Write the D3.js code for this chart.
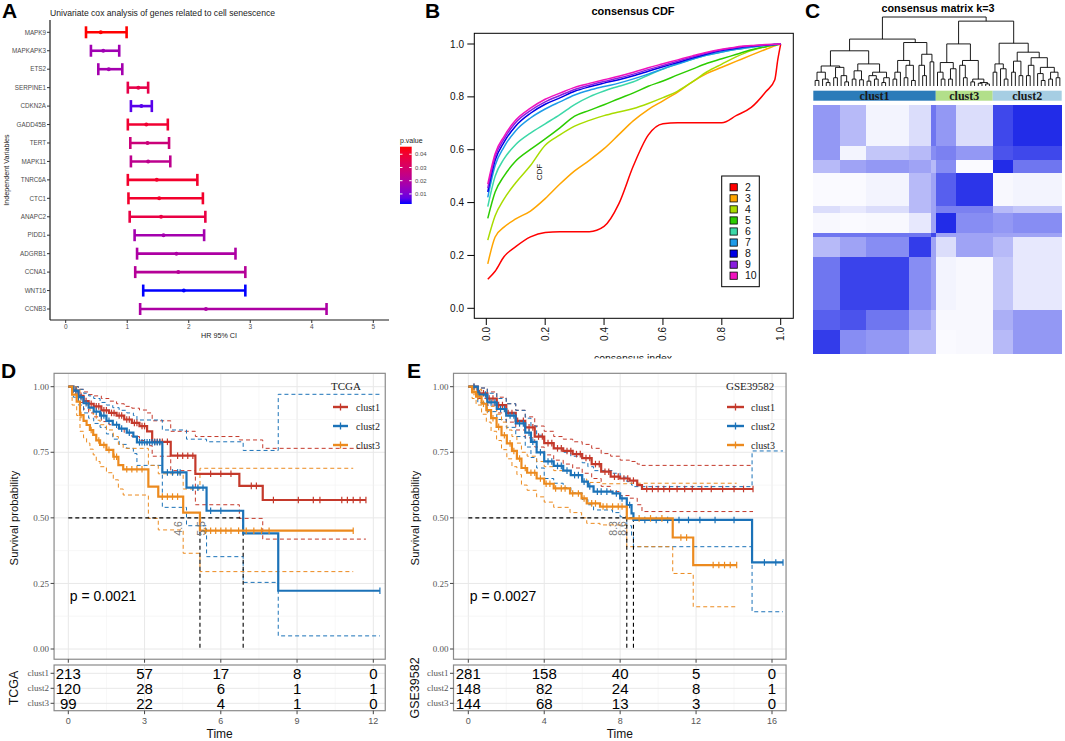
<!DOCTYPE html>
<html>
<head>
<meta charset="utf-8">
<title>Cell senescence figure</title>
<script src="https://cdn.jsdelivr.net/npm/d3@7/dist/d3.min.js"></script>
<style>
  body { margin: 0; background: #fff; }
  svg { font-family: Arial, "Liberation Sans", sans-serif; }
</style>
</head>
<body>
<svg id="fig" width="1065" height="741"></svg>
<script>
const SERIF = '"Liberation Serif", "Times New Roman", serif';

// ---------------- panel A: univariate cox ----------------
const genes = ["MAPK9", "MAPKAPK3", "ETS2", "SERPINE1", "CDKN2A", "GADD45B", "TERT", "MAPK11",
  "TNRC6A", "CTC1", "ANAPC2", "PIDD1", "ADGRB1", "CCNA1", "WNT16", "CCNB3"];
const hr     = [0.57, 0.61, 0.70, 1.18, 1.23, 1.31, 1.33, 1.34, 1.48, 1.52, 1.55, 1.59, 1.80, 1.83, 1.92, 2.28];
const hrLow  = [0.33, 0.41, 0.53, 1.01, 1.06, 1.01, 1.05, 1.06, 1.01, 1.02, 1.04, 1.12, 1.16, 1.13, 1.26, 1.21];
const hrHigh = [0.99, 0.87, 0.92, 1.34, 1.40, 1.66, 1.68, 1.70, 2.14, 2.23, 2.27, 2.25, 2.76, 2.92, 2.92, 4.24];
const pvals  = [0.0457, 0.016, 0.017, 0.036, 0.006, 0.040, 0.027, 0.023, 0.041, 0.041, 0.037, 0.017, 0.019, 0.021, 0.0024, 0.019];
const hrTicks = [0, 1, 2, 3, 4, 5];
const pTicks = [0.01, 0.02, 0.03, 0.04];

// ---------------- panel B: consensus CDF ----------------
const cdfK = [2, 3, 4, 5, 6, 7, 8, 9, 10];
const cdfColors = ["#ff0000", "#ffa500", "#a8dc00", "#2ccc00", "#3cd8a8", "#1e9be8", "#0000e6", "#8a1ede", "#f012be"];
const cdfX = [0.005, 0.03, 0.06, 0.1, 0.15, 0.2, 0.25, 0.3, 0.35, 0.4, 0.45, 0.5, 0.55, 0.6, 0.65, 0.7, 0.75, 0.8, 0.85, 0.9, 0.95, 0.98, 0.99, 1.0];
const cdfK2  = [0.11, 0.14, 0.195, 0.233, 0.27, 0.287, 0.29, 0.29, 0.29, 0.31, 0.395, 0.54, 0.655, 0.698, 0.702, 0.702, 0.702, 0.702, 0.73, 0.76, 0.82, 0.865, 0.94, 1.0];
const cdfK3  = [0.168, 0.27, 0.307, 0.338, 0.368, 0.415, 0.47, 0.52, 0.56, 0.604, 0.657, 0.71, 0.752, 0.785, 0.818, 0.857, 0.889, 0.912, 0.935, 0.958, 0.98, 0.993, 0.997, 1.0];
const cdfK4  = [0.258, 0.35, 0.413, 0.475, 0.54, 0.617, 0.656, 0.689, 0.711, 0.729, 0.743, 0.756, 0.775, 0.797, 0.822, 0.857, 0.895, 0.924, 0.952, 0.975, 0.99, 0.996, 0.998, 1.0];
const cdfK5  = [0.34, 0.44, 0.50, 0.557, 0.601, 0.641, 0.683, 0.727, 0.749, 0.77, 0.793, 0.815, 0.84, 0.86, 0.883, 0.905, 0.927, 0.944, 0.961, 0.978, 0.99, 0.996, 0.998, 1.0];
const cdfK6  = [0.385, 0.50, 0.565, 0.62, 0.663, 0.698, 0.733, 0.771, 0.80, 0.822, 0.84, 0.857, 0.882, 0.905, 0.926, 0.942, 0.958, 0.97, 0.98, 0.988, 0.995, 0.998, 0.999, 1.0];
const cdfK7  = [0.42, 0.54, 0.61, 0.672, 0.72, 0.754, 0.781, 0.807, 0.825, 0.839, 0.852, 0.868, 0.886, 0.906, 0.924, 0.942, 0.958, 0.97, 0.98, 0.988, 0.995, 0.998, 0.999, 1.0];
const cdfK8  = [0.44, 0.56, 0.628, 0.69, 0.738, 0.772, 0.796, 0.821, 0.838, 0.852, 0.865, 0.88, 0.897, 0.914, 0.93, 0.947, 0.962, 0.975, 0.984, 0.991, 0.996, 0.998, 0.999, 1.0];
const cdfK9  = [0.455, 0.573, 0.64, 0.703, 0.748, 0.781, 0.805, 0.828, 0.844, 0.858, 0.871, 0.886, 0.903, 0.919, 0.935, 0.951, 0.966, 0.978, 0.987, 0.993, 0.997, 0.999, 0.9995, 1.0];
const cdfK10 = [0.47, 0.585, 0.65, 0.712, 0.757, 0.791, 0.814, 0.836, 0.851, 0.865, 0.878, 0.893, 0.91, 0.925, 0.94, 0.955, 0.969, 0.98, 0.989, 0.994, 0.998, 0.999, 1.0, 1.0];
const cdfSeries = [cdfK2, cdfK3, cdfK4, cdfK5, cdfK6, cdfK7, cdfK8, cdfK9, cdfK10];
const unitTicks = [0, 0.2, 0.4, 0.6, 0.8, 1.0];

// ---------------- panel C: consensus matrix k=3 ----------------
// nested [height, left, right]; 0 = leaf
const dendroTree = [1.0,
  [0.68,
    [0.51,
      [0.29, [0.2, [0.08, 0, 0], [0.1, 0, [0.05, 0, 0]]], [0.27, [0.12, 0, 0], [0.15, 0, [0.06, 0, 0]]]],
      [0.32, [0.22, [0.1, 0, 0], [0.09, 0, 0]], [0.2, [0.15, [0.07, 0, 0], [0.1, 0, 0]], [0.12, [0.05, 0, 0], 0]]]],
    [0.63,
      [0.37, [0.2, [0.1, 0, 0], 0], [0.3, [0.12, 0, 0], [0.08, 0, 0]]],
      [0.46, [0.3, 0, [0.15, 0, 0]], [0.35, 0, 0]]]],
  [0.94,
    [0.61, [0.34, [0.2, 0, [0.1, 0, 0]], [0.25, [0.1, 0, 0], 0]],
           [0.37, [0.3, 0, [0.12, 0, 0]], [0.1, [0.06, 0, 0], [0.05, [0.04, 0, 0], [0.03, 0, 0]]]]],
    [0.62, [0.32, [0.2, 0, 0], [0.25, 0, [0.1, 0, 0]]],
           [0.49, [0.36, [0.2, 0, 0], [0.15, 0, 0]],
                  [0.41, [0.3, [0.15, 0, 0], 0], [0.27, [0.18, 0, [0.08, 0, 0]], [0.2, [0.1, 0, 0], [0.12, 0, 0]]]]]]]
];
const clusterNames = ["clust1", "clust3", "clust2"];
const clusterSizes = [213, 99, 120];
const clusterColors = ["#2b7bb9", "#b2df8a", "#a6cee3"];
const colBands = [46, 46, 75, 38, 8, 35, 64, 35, 85];
const rowBands = [72, 23, 23, 58, 12, 35, 6, 35, 93, 35, 40];
const consensusBlocks = [
  [0.45, 0.30, 0.05, 0.15, 0.60, 0.45, 0.15, 0.80, 0.92],
  [0.45, 0.05, 0.25, 0.30, 0.50, 0.55, 0.45, 0.75, 0.80],
  [0.30, 0.40, 0.45, 0.40, 0.30, 0.50, 0.02, 0.92, 0.60],
  [0.02, 0.02, 0.05, 0.30, 0.40, 0.70, 0.88, 0.03, 0.05],
  [0.15, 0.10, 0.15, 0.30, 0.40, 0.55, 0.55, 0.30, 0.25],
  [0.03, 0.02, 0.03, 0.10, 0.40, 0.92, 0.50, 0.45, 0.50],
  [0.60, 0.60, 0.60, 0.60, 0.80, 0.40, 0.40, 0.40, 0.40],
  [0.30, 0.40, 0.50, 0.85, 0.40, 0.15, 0.40, 0.30, 0.10],
  [0.60, 0.82, 0.82, 0.50, 0.40, 0.05, 0.03, 0.25, 0.10],
  [0.70, 0.75, 0.60, 0.40, 0.30, 0.03, 0.03, 0.35, 0.45],
  [0.85, 0.50, 0.45, 0.30, 0.30, 0.02, 0.03, 0.30, 0.45]
];

// ---------------- panels D/E: Kaplan-Meier ----------------
const kmNames = ["clust1", "clust2", "clust3"];
const kmColors = ["#c4392b", "#1b72b8", "#ec8a1e"];

// TCGA
const tcga1T  = [0, 0.2, 0.4, 0.6, 0.8, 1.0, 1.3, 1.6, 1.9, 2.2, 2.5, 2.8, 3.1, 3.3, 4.03, 5.0, 6.73, 7.65];
const tcga1S  = [1, 0.985, 0.965, 0.945, 0.935, 0.925, 0.91, 0.9, 0.89, 0.875, 0.862, 0.85, 0.83, 0.79, 0.737, 0.668, 0.622, 0.568];
const tcga1Up = [1, 1, 0.99, 0.98, 0.97, 0.965, 0.955, 0.945, 0.935, 0.925, 0.918, 0.911, 0.9, 0.87, 0.83, 0.81, 0.797, 0.765];
const tcga1Lo = [1, 0.97, 0.94, 0.915, 0.9, 0.885, 0.867, 0.855, 0.841, 0.825, 0.81, 0.795, 0.775, 0.735, 0.68, 0.55, 0.498, 0.419];
const tcga1Cens = [0.3, 0.5, 0.7, 0.9, 1.1, 1.2, 1.4, 1.5, 1.7, 1.8, 2.0, 2.1, 2.3, 2.4, 2.6, 2.7, 2.9, 3.0, 3.4, 3.5, 3.6, 3.7, 3.9,
  4.3, 4.5, 4.7, 4.9, 5.6, 6.0, 6.4, 7.2, 7.4, 8.07, 9.05, 9.64, 9.9, 10.76, 10.98, 11.21, 11.48, 11.71];
const tcga2T  = [0, 0.2, 0.4, 0.6, 0.8, 1.0, 1.25, 1.5, 1.75, 2.0, 2.3, 2.56, 2.7, 3.7, 4.65, 5.44, 6.88, 8.26];
const tcga2S  = [1, 0.985, 0.96, 0.937, 0.92, 0.905, 0.89, 0.87, 0.855, 0.84, 0.825, 0.81, 0.788, 0.673, 0.615, 0.527, 0.441, 0.222];
const tcga2Up = [1, 1, 0.99, 0.975, 0.965, 0.955, 0.94, 0.93, 0.92, 0.91, 0.9, 0.89, 0.873, 0.835, 0.80, 0.79, 0.757, 0.971];
const tcga2Lo = [1, 0.96, 0.93, 0.9, 0.88, 0.86, 0.845, 0.82, 0.8, 0.78, 0.765, 0.745, 0.70, 0.54, 0.47, 0.352, 0.254, 0.05];
const tcga2Cens = [0.3, 0.5, 0.7, 1.1, 1.3, 1.4, 1.6, 1.9, 2.1, 2.4, 2.8, 2.9, 3.0, 3.1, 3.2, 3.3, 3.4, 3.5, 3.6, 3.9, 4.1, 4.3, 4.4,
  4.9, 5.1, 5.3, 5.6, 6.0, 12.26];
const tcga3T  = [0, 0.15, 0.33, 0.46, 0.6, 0.72, 0.85, 0.98, 1.1, 1.25, 1.5, 1.77, 1.97, 2.16, 3.15, 3.54, 4.52, 5.18];
const tcga3S  = [1, 0.97, 0.943, 0.892, 0.87, 0.854, 0.835, 0.816, 0.795, 0.778, 0.759, 0.733, 0.701, 0.685, 0.619, 0.581, 0.52, 0.451];
const tcga3Up = [1, 1, 0.99, 0.96, 0.945, 0.93, 0.91, 0.892, 0.872, 0.855, 0.835, 0.81, 0.78, 0.765, 0.70, 0.668, 0.61, 0.689];
const tcga3Lo = [1, 0.93, 0.89, 0.83, 0.805, 0.785, 0.762, 0.74, 0.715, 0.695, 0.672, 0.645, 0.61, 0.587, 0.498, 0.454, 0.365, 0.295];
const tcga3Cens = [0.5, 0.9, 1.2, 1.4, 1.6, 1.8, 1.9, 2.3, 2.5, 2.7, 2.9, 3.7, 3.9, 4.1, 4.3, 5.4, 5.6, 5.8, 6.0, 6.2, 6.4, 6.7,
  7.0, 7.3, 7.6, 7.9, 11.21];
const tcgaEnd = [11.71, 12.26, 11.21];
const tcgaRisk1 = [213, 57, 17, 8, 0];
const tcgaRisk2 = [120, 28, 6, 1, 1];
const tcgaRisk3 = [99, 22, 4, 1, 0];
const tcgaTicks = [0, 3, 6, 9, 12];
const tcgaMedLabels = ["4.6", "5.5"];
const tcgaMedLabelT = [4.32, 5.25];

// GSE39582
const gse1T  = [0, 0.5, 1.0, 1.5, 2.0, 2.5, 3.0, 3.5, 4.0, 4.5, 5.0, 5.5, 6.0, 6.5, 7.0, 7.5, 8.0, 8.5, 8.9, 9.15];
const gse1S  = [1, 0.975, 0.955, 0.93, 0.9, 0.87, 0.845, 0.81, 0.785, 0.765, 0.755, 0.743, 0.728, 0.705, 0.676, 0.657, 0.65, 0.642, 0.625, 0.61];
const gse1Up = [1, 0.995, 0.98, 0.96, 0.935, 0.91, 0.885, 0.85, 0.83, 0.81, 0.8, 0.79, 0.78, 0.765, 0.745, 0.735, 0.72, 0.715, 0.705, 0.70];
const gse1Lo = [1, 0.955, 0.93, 0.9, 0.865, 0.835, 0.805, 0.77, 0.74, 0.72, 0.705, 0.69, 0.67, 0.65, 0.62, 0.6, 0.585, 0.575, 0.55, 0.524];
const gse1Cens = [0.3, 0.6, 0.8, 1.1, 1.3, 1.6, 1.8, 2.1, 2.3, 2.6, 2.9, 3.2, 3.4, 3.7, 3.9, 4.2, 4.4, 4.7, 4.9, 5.2, 5.4, 5.7, 5.9,
  6.2, 6.4, 6.7, 6.9, 7.2, 7.4, 7.7, 7.9, 8.2, 8.4, 8.7, 9.4, 9.7, 10.0, 10.3, 10.6, 11.0, 11.4, 11.8, 12.3, 12.8, 13.4, 14.0, 14.5, 15.0];
const gse2T  = [0, 0.5, 1.0, 1.5, 2.0, 2.5, 3.0, 3.3, 3.6, 4.0, 4.5, 5.0, 5.4, 6.0, 6.3, 6.6, 7.6, 8.0, 8.35, 8.6, 8.7, 14.95];
const gse2S  = [1, 0.97, 0.94, 0.915, 0.89, 0.86, 0.825, 0.79, 0.75, 0.715, 0.698, 0.68, 0.663, 0.638, 0.62, 0.6, 0.593, 0.574, 0.549, 0.517, 0.492, 0.33];
const gse2Up = [1, 0.995, 0.975, 0.955, 0.935, 0.91, 0.88, 0.85, 0.815, 0.785, 0.765, 0.75, 0.735, 0.71, 0.695, 0.68, 0.67, 0.655, 0.638, 0.625, 0.619, 0.755];
const gse2Lo = [1, 0.94, 0.905, 0.875, 0.845, 0.81, 0.77, 0.73, 0.69, 0.65, 0.632, 0.615, 0.595, 0.57, 0.55, 0.53, 0.52, 0.504, 0.47, 0.43, 0.39, 0.142];
const gse2Cens = [0.3, 0.6, 0.9, 1.2, 1.4, 1.7, 1.9, 2.2, 2.4, 2.7, 2.9, 3.2, 3.4, 3.8, 4.2, 4.4, 4.7, 4.9, 5.2, 5.6, 5.8, 6.1, 6.4,
  6.8, 7.0, 7.3, 7.8, 8.1, 8.5, 9.3, 9.9, 10.5, 11.1, 11.6, 12.2, 13.0, 14.0, 15.6, 16.2, 16.58];
const gse3T  = [0, 0.2, 0.41, 0.7, 0.95, 1.2, 1.49, 1.75, 2.03, 2.3, 2.56, 2.8, 3.1, 3.6, 4.0, 4.5, 5.36, 5.97, 6.24, 6.94, 8.35, 10.77, 11.85];
const gse3S  = [1, 0.98, 0.962, 0.935, 0.911, 0.88, 0.847, 0.815, 0.784, 0.755, 0.726, 0.69, 0.672, 0.65, 0.63, 0.612, 0.593, 0.574, 0.555, 0.543, 0.498, 0.425, 0.32];
const gse3Up = [1, 1, 0.99, 0.97, 0.95, 0.925, 0.895, 0.865, 0.835, 0.81, 0.785, 0.75, 0.735, 0.715, 0.695, 0.68, 0.665, 0.648, 0.635, 0.63, 0.632, 0.632, 0.632];
const gse3Lo = [1, 0.955, 0.93, 0.895, 0.865, 0.83, 0.795, 0.76, 0.725, 0.695, 0.665, 0.625, 0.605, 0.58, 0.56, 0.54, 0.52, 0.5, 0.479, 0.473, 0.39, 0.288, 0.161];
const gse3Cens = [0.3, 0.5, 0.8, 1.0, 1.3, 1.6, 1.9, 2.2, 2.4, 2.7, 3.0, 3.3, 3.5, 3.8, 4.1, 4.3, 4.6, 4.9, 5.1, 5.5, 5.8, 6.1, 6.5,
  6.7, 7.1, 7.3, 7.6, 7.9, 8.1, 9.0, 9.6, 10.2, 11.2, 11.5, 12.9, 13.2, 13.5, 13.8, 14.14];
const gseEnd = [15.0, 16.58, 14.14];
const gseRisk1 = [281, 158, 40, 5, 0];
const gseRisk2 = [148, 82, 24, 8, 1];
const gseRisk3 = [144, 68, 13, 3, 0];
const gseTicks = [0, 4, 8, 12, 16];
const gseMedLabels = ["8.3", "8.6"];
const gseMedLabelT = [7.62, 8.1];

const svg = d3.select("#fig");

function panelLetter(txt, x, y) {
  svg.append("text").attr("x", x).attr("y", y).attr("font-size", 21)
    .attr("font-weight", "bold").attr("fill", "#000").text(txt);
}

// =============== A ===============
{
  const g = svg.append("g");
  panelLetter("A", 2, 18);
  g.append("text").attr("x", 50).attr("y", 16).attr("font-size", 8.6).attr("fill", "#1a1a1a")
    .text("Univariate cox analysis of genes related to cell senescence");

  const x = d3.scaleLinear().domain([0, 5]).range([65.7, 373.3]);
  const y = d3.scalePoint().domain(genes).range([32.3, 309]);
  const pExt = d3.extent(pvals);
  const col = d3.scaleLinear().domain(pExt).range(["blue", "red"]).interpolate(d3.interpolateLab);

  g.append("line").attr("x1", 50).attr("x2", 50).attr("y1", 20).attr("y2", 320).attr("stroke", "#1a1a1a").attr("stroke-width", 1.2);
  g.append("line").attr("x1", 50).attr("x2", 389).attr("y1", 320).attr("y2", 320).attr("stroke", "#1a1a1a").attr("stroke-width", 1.2);

  hrTicks.forEach(t => {
    g.append("line").attr("x1", x(t)).attr("x2", x(t)).attr("y1", 320).attr("y2", 323).attr("stroke", "#333");
    g.append("text").attr("x", x(t)).attr("y", 327).attr("dy", "0.35em").attr("text-anchor", "middle")
      .attr("font-size", 6.5).attr("fill", "#4d4d4d").text(t);
  });
  genes.forEach((gn, i) => {
    const yy = y(gn);
    g.append("line").attr("x1", 47).attr("x2", 50).attr("y1", yy).attr("y2", yy).attr("stroke", "#333");
    g.append("text").attr("x", 46).attr("y", yy).attr("dy", "0.35em").attr("text-anchor", "end")
      .attr("font-size", 6.3).attr("fill", "#4d4d4d").text(gn);
    const c = col(pvals[i]);
    g.append("line").attr("x1", x(hrLow[i])).attr("x2", x(hrHigh[i])).attr("y1", yy).attr("y2", yy)
      .attr("stroke", c).attr("stroke-width", 2.6);
    [hrLow[i], hrHigh[i]].forEach(v => {
      g.append("line").attr("x1", x(v)).attr("x2", x(v)).attr("y1", yy - 6).attr("y2", yy + 6)
        .attr("stroke", c).attr("stroke-width", 2.6);
    });
    g.append("circle").attr("cx", x(hr[i])).attr("cy", yy).attr("r", 2).attr("fill", c);
  });
  g.append("text").attr("transform", "translate(9,170) rotate(-90)").attr("text-anchor", "middle")
    .attr("font-size", 7.2).attr("fill", "#1a1a1a").text("Independent Variables");
  g.append("text").attr("x", 219).attr("y", 338).attr("text-anchor", "middle")
    .attr("font-size", 7.2).attr("fill", "#1a1a1a").text("HR 95% CI");

  // colour bar legend
  const grad = svg.append("defs").append("linearGradient").attr("id", "pgrad")
    .attr("x1", 0).attr("y1", 1).attr("x2", 0).attr("y2", 0);
  d3.range(0, 1.0001, 0.1).forEach(f => {
    grad.append("stop").attr("offset", f).attr("stop-color", d3.interpolateLab("blue", "red")(f));
  });
  const cb = d3.scaleLinear().domain(pExt).range([204, 146.7]);
  g.append("text").attr("x", 400).attr("y", 142.5).attr("font-size", 7).attr("fill", "#1a1a1a").text("p.value");
  g.append("rect").attr("x", 400).attr("y", cb(pExt[1])).attr("width", 11.7)
    .attr("height", cb(pExt[0]) - cb(pExt[1])).attr("fill", "url(#pgrad)");
  pTicks.forEach(p => {
    g.append("line").attr("x1", 400).attr("x2", 402.5).attr("y1", cb(p)).attr("y2", cb(p)).attr("stroke", "#fff");
    g.append("line").attr("x1", 409.2).attr("x2", 411.7).attr("y1", cb(p)).attr("y2", cb(p)).attr("stroke", "#fff");
    g.append("text").attr("x", 415).attr("y", cb(p)).attr("dy", "0.35em").attr("font-size", 6)
      .attr("fill", "#4d4d4d").text(p.toFixed(2));
  });
}

// =============== B ===============
{
  const g = svg.append("g");
  panelLetter("B", 425, 18);
  g.append("text").attr("x", 633).attr("y", 15).attr("text-anchor", "middle").attr("font-size", 11)
    .attr("font-weight", "bold").text("consensus CDF");
  const x = d3.scaleLinear().domain([0, 1]).range([486.3, 780.7]);
  const y = d3.scaleLinear().domain([0, 1]).range([308.3, 44]);
  g.append("rect").attr("x", 474.3).attr("y", 33.3).attr("width", 319).attr("height", 285)
    .attr("fill", "none").attr("stroke", "#000").attr("stroke-width", 1);

  unitTicks.forEach(t => {
    g.append("line").attr("x1", 467.3).attr("x2", 474.3).attr("y1", y(t)).attr("y2", y(t)).attr("stroke", "#000");
    g.append("text").attr("x", 464).attr("y", y(t)).attr("dy", "0.35em").attr("text-anchor", "end")
      .attr("font-size", 10).attr("fill", "#111").text(t.toFixed(1));
    g.append("line").attr("x1", x(t)).attr("x2", x(t)).attr("y1", 318.3).attr("y2", 325).attr("stroke", "#000");
    g.append("text").attr("transform", `translate(${x(t)},327) rotate(-90)`).attr("dy", "0.35em")
      .attr("text-anchor", "end").attr("font-size", 10).attr("fill", "#111").text(t.toFixed(1));
  });

  const line = d3.line().x((d, i) => x(cdfX[i])).y(d => y(d)).curve(d3.curveMonotoneX);
  cdfSeries.forEach((s, i) => {
    g.append("path").attr("d", line(s)).attr("fill", "none").attr("stroke", cdfColors[i]).attr("stroke-width", 1.5);
  });

  g.append("text").attr("transform", "translate(539,172) rotate(-90)").attr("text-anchor", "middle")
    .attr("dy", "0.35em").attr("font-size", 8).attr("fill", "#111").text("CDF");

  svg.append("defs").append("clipPath").attr("id", "clipB")
    .append("rect").attr("x", 470).attr("y", 340).attr("width", 330).attr("height", 18.5);
  g.append("text").attr("x", 633).attr("y", 362).attr("text-anchor", "middle").attr("font-size", 10.5)
    .attr("clip-path", "url(#clipB)").attr("fill", "#111").text("consensus index");

  // legend
  const ly = d3.scalePoint().domain(cdfK).range([187.3, 275.7]);
  g.append("rect").attr("x", 721.7).attr("y", 176).attr("width", 37.6).attr("height", 110.7)
    .attr("fill", "#fff").attr("stroke", "#000").attr("stroke-width", 1);
  cdfK.forEach((k, i) => {
    g.append("rect").attr("x", 730).attr("y", ly(k) - 3.6).attr("width", 7.3).attr("height", 7.2)
      .attr("fill", cdfColors[i]).attr("stroke", "#000").attr("stroke-width", 0.8);
    g.append("text").attr("x", 745).attr("y", ly(k)).attr("dy", "0.36em").attr("font-size", 10.5)
      .attr("fill", "#111").text(k);
  });
}

// =============== C ===============
{
  const g = svg.append("g");
  panelLetter("C", 805, 18);
  g.append("text").attr("x", 938).attr("y", 12).attr("text-anchor", "middle").attr("font-size", 10.8)
    .attr("font-weight", "bold").text("consensus matrix k=3");

  const total = d3.sum(colBands);
  const cx = d3.scaleLinear().domain([0, total]).range([813.3, 1061.7]);
  const cy = d3.scaleLinear().domain([0, d3.sum(rowBands)]).range([105, 353.3]);
  const heat = d3.scaleLinear().domain([0, 1]).range(["#ffffff", "#0f1ae6"]);
  const colStart = Array.from(d3.cumsum([0].concat(colBands)));
  const rowStart = Array.from(d3.cumsum([0].concat(rowBands)));

  rowBands.forEach((rh, i) => {
    colBands.forEach((cw, j) => {
      g.append("rect").attr("x", cx(colStart[j])).attr("y", cy(rowStart[i]))
        .attr("width", cx(colStart[j + 1]) - cx(colStart[j]) + 0.3)
        .attr("height", cy(rowStart[i + 1]) - cy(rowStart[i]) + 0.3)
        .attr("fill", heat(consensusBlocks[i][j])).attr("shape-rendering", "crispEdges");
    });
  });

  // cluster bar
  const clStart = Array.from(d3.cumsum([0].concat(clusterSizes)));
  clusterNames.forEach((nm, i) => {
    g.append("rect").attr("x", cx(clStart[i])).attr("y", 90.7).attr("width", cx(clStart[i + 1]) - cx(clStart[i]))
      .attr("height", 10).attr("fill", clusterColors[i]);
    g.append("text").attr("x", (cx(clStart[i]) + cx(clStart[i + 1])) / 2).attr("y", 95.9).attr("dy", "0.35em")
      .attr("text-anchor", "middle").attr("font-family", SERIF).attr("font-weight", "bold")
      .attr("font-size", 12).attr("fill", "#1a1a1a").text(nm);
  });

  // dendrogram
  const toNode = a => Array.isArray(a) ? { h: a[0], children: a.slice(1).map(toNode) } : { h: 0 };
  const root = d3.hierarchy(toNode(dendroTree));
  d3.cluster().size([cx.range()[1] - cx.range()[0], 1]).separation(() => 1)(root);
  const hy = d3.scaleLinear().domain([0, 1]).range([86, 17]);
  const X = n => cx.range()[0] + n.x;
  root.descendants().forEach(n => {
    if (!n.children) return;
    const xs = n.children.map(X);
    g.append("line").attr("x1", d3.min(xs)).attr("x2", d3.max(xs)).attr("y1", hy(n.data.h)).attr("y2", hy(n.data.h))
      .attr("stroke", "#000").attr("stroke-width", 0.9);
    n.children.forEach(c => {
      g.append("line").attr("x1", X(c)).attr("x2", X(c)).attr("y1", hy(c.data.h)).attr("y2", hy(n.data.h))
        .attr("stroke", "#000").attr("stroke-width", 0.9);
    });
  });
}

// =============== D / E ===============
function stepAt(t, ts, ss) {
  let v = ss[0];
  ts.forEach((tt, i) => { if (tt <= t) v = ss[i]; });
  return v;
}

function drawKM(o) {
  const g = svg.append("g");
  const tMax = o.ticks[o.ticks.length - 1];
  const x = d3.scaleLinear().domain([0, tMax]).range(o.xr);
  const y = d3.scaleLinear().domain([0, 1]).range([649, 386.7]);
  const L = x(o.dom[0]), R = x(o.dom[1]), T = y(1.051), B = y(-0.039);
  const step = o.ticks[1] - o.ticks[0];
  const minorX = o.ticks.slice(0, -1).map(t => t + step / 2);
  const yMaj = [0, 0.25, 0.5, 0.75, 1], yMin = [0.125, 0.375, 0.625, 0.875];
  const tabT = 665, tabB = 710.7;
  const rowY = d3.scalePoint().domain(kmNames).range([673.3, 703.3]);

  // grids (plot + table)
  [[T, B], [tabT, tabB]].forEach(([a, b]) => {
    minorX.forEach(t => g.append("line").attr("x1", x(t)).attr("x2", x(t)).attr("y1", a).attr("y2", b)
      .attr("stroke", "#f2f2f2").attr("stroke-width", 0.6));
    o.ticks.forEach(t => g.append("line").attr("x1", x(t)).attr("x2", x(t)).attr("y1", a).attr("y2", b)
      .attr("stroke", "#e8e8e8").attr("stroke-width", 1));
  });
  yMin.forEach(v => g.append("line").attr("x1", L).attr("x2", R).attr("y1", y(v)).attr("y2", y(v))
    .attr("stroke", "#f2f2f2").attr("stroke-width", 0.6));
  yMaj.forEach(v => g.append("line").attr("x1", L).attr("x2", R).attr("y1", y(v)).attr("y2", y(v))
    .attr("stroke", "#e8e8e8").attr("stroke-width", 1));
  kmNames.forEach(nm => g.append("line").attr("x1", L).attr("x2", R).attr("y1", rowY(nm)).attr("y2", rowY(nm))
    .attr("stroke", "#e8e8e8").attr("stroke-width", 1));

  const stepLine = d3.line().x(d => x(d[0])).y(d => y(d[1])).curve(d3.curveStepAfter);
  const pts = (ts, vs, end) => ts.map((t, i) => [t, vs[i]]).concat([[end, vs[vs.length - 1]]]);

  // confidence bands
  o.curves.forEach(c => {
    [c.lo, c.up].forEach(v => {
      g.append("path").attr("d", stepLine(pts(c.t, v, c.end))).attr("fill", "none")
        .attr("stroke", c.color).attr("stroke-width", 1).attr("stroke-dasharray", "4,3");
    });
  });

  // medians
  const meds = o.curves.map(c => { const i = c.s.findIndex(v => v <= 0.5); return i < 0 ? null : c.t[i]; })
    .filter(v => v !== null);
  g.append("line").attr("x1", x(0)).attr("x2", x(d3.max(meds))).attr("y1", y(0.5)).attr("y2", y(0.5))
    .attr("stroke", "#000").attr("stroke-width", 1.1).attr("stroke-dasharray", "4,3");
  meds.forEach(m => g.append("line").attr("x1", x(m)).attr("x2", x(m)).attr("y1", y(0.5)).attr("y2", y(0))
    .attr("stroke", "#000").attr("stroke-width", 1.1).attr("stroke-dasharray", "4,3"));

  // survival curves + censoring
  o.curves.forEach(c => {
    g.append("path").attr("d", stepLine(pts(c.t, c.s, c.end))).attr("fill", "none")
      .attr("stroke", c.color).attr("stroke-width", 2.2);
    c.cens.forEach(t => {
      const yy = y(stepAt(t, c.t, c.s));
      g.append("line").attr("x1", x(t)).attr("x2", x(t)).attr("y1", yy - 3.3).attr("y2", yy + 3.3)
        .attr("stroke", c.color).attr("stroke-width", 1.2);
    });
  });

  o.medLabels.forEach((lb, i) => {
    g.append("text").attr("transform", `translate(${x(o.medLabelT[i])},${y(0.46)}) rotate(-90)`)
      .attr("text-anchor", "middle").attr("dy", "0.35em").attr("font-size", 10.5).attr("fill", "#777").text(lb);
  });

  // frames
  g.append("rect").attr("x", L).attr("y", T).attr("width", R - L).attr("height", B - T)
    .attr("fill", "none").attr("stroke", "#8a8a8a").attr("stroke-width", 1.2);
  g.append("rect").attr("x", L).attr("y", tabT).attr("width", R - L).attr("height", tabB - tabT)
    .attr("fill", "none").attr("stroke", "#8a8a8a").attr("stroke-width", 1.2);

  // axes
  yMaj.forEach(v => {
    g.append("line").attr("x1", L - 3.5).attr("x2", L).attr("y1", y(v)).attr("y2", y(v)).attr("stroke", "#444");
    g.append("text").attr("x", L - 5).attr("y", y(v)).attr("dy", "0.35em").attr("text-anchor", "end")
      .attr("font-family", SERIF).attr("font-size", 9).attr("fill", "#555").text(v.toFixed(2));
  });
  o.ticks.forEach(t => {
    g.append("line").attr("x1", x(t)).attr("x2", x(t)).attr("y1", B).attr("y2", B + 3.5).attr("stroke", "#444");
    g.append("line").attr("x1", x(t)).attr("x2", x(t)).attr("y1", tabB).attr("y2", tabB + 3.5).attr("stroke", "#444");
    g.append("text").attr("x", x(t)).attr("y", 721).attr("dy", "0.35em").attr("text-anchor", "middle")
      .attr("font-size", 9).attr("fill", "#555").text(t);
  });
  g.append("text").attr("x", (L + R) / 2).attr("y", 734).attr("dy", "0.35em").attr("text-anchor", "middle")
    .attr("font-size", 12).attr("fill", "#111").text("Time");
  g.append("text").attr("transform", `translate(${o.yTitleX},518) rotate(-90)`).attr("text-anchor", "middle")
    .attr("dy", "0.35em").attr("font-size", 11.3).attr("fill", "#111").text("Survival probability");
  g.append("text").attr("transform", `translate(${o.yTitleX},688) rotate(-90)`).attr("text-anchor", "middle")
    .attr("dy", "0.35em").attr("font-size", 12.5).attr("fill", "#111").text(o.title);

  // p value
  g.append("text").attr("x", x(0) + 1.5).attr("y", y(0.2)).attr("dy", "0.35em").attr("font-size", 14)
    .attr("fill", "#000").text(o.pText);

  // risk table
  o.curves.forEach((c, i) => {
    const yy = rowY(kmNames[i]);
    g.append("line").attr("x1", L - 3.5).attr("x2", L).attr("y1", yy).attr("y2", yy).attr("stroke", "#444");
    g.append("text").attr("x", L - 5).attr("y", yy).attr("dy", "0.35em").attr("text-anchor", "end")
      .attr("font-family", SERIF).attr("font-size", 9).attr("fill", "#555").text(kmNames[i]);
    c.risk.forEach((n, j) => {
      g.append("text").attr("x", x(o.ticks[j])).attr("y", yy).attr("dy", "0.36em").attr("text-anchor", "middle")
        .attr("font-size", 15).attr("fill", "#000").text(n);
    });
  });

  // legend
  g.append("text").attr("x", o.leg[0]).attr("y", 386).attr("dy", "0.35em").attr("font-family", SERIF)
    .attr("font-size", 11).attr("fill", "#222").text(o.title);
  const legY = d3.scalePoint().domain(kmNames).range([407, 445]);
  o.curves.forEach((c, i) => {
    const yy = legY(kmNames[i]);
    g.append("line").attr("x1", o.leg[1]).attr("x2", o.leg[2]).attr("y1", yy).attr("y2", yy)
      .attr("stroke", c.color).attr("stroke-width", 2.4);
    const mx = (o.leg[1] + o.leg[2]) / 2;
    g.append("line").attr("x1", mx).attr("x2", mx).attr("y1", yy - 3.5).attr("y2", yy + 3.5)
      .attr("stroke", c.color).attr("stroke-width", 1.3);
    g.append("text").attr("x", o.leg[3]).attr("y", yy).attr("dy", "0.35em").attr("font-family", SERIF)
      .attr("font-size", 10).attr("fill", "#222").text(kmNames[i]);
  });
}

panelLetter("D", 1, 378);
drawKM({
  title: "TCGA", pText: "p = 0.0021", ticks: tcgaTicks, xr: [68.3, 373.3], dom: [-0.56, 12.47], yTitleX: 14,
  leg: [331, 333, 348, 356], medLabels: tcgaMedLabels, medLabelT: tcgaMedLabelT,
  curves: [
    { t: tcga1T, s: tcga1S, lo: tcga1Lo, up: tcga1Up, end: tcgaEnd[0], cens: tcga1Cens, risk: tcgaRisk1, color: kmColors[0] },
    { t: tcga2T, s: tcga2S, lo: tcga2Lo, up: tcga2Up, end: tcgaEnd[1], cens: tcga2Cens, risk: tcgaRisk2, color: kmColors[1] },
    { t: tcga3T, s: tcga3S, lo: tcga3Lo, up: tcga3Up, end: tcgaEnd[2], cens: tcga3Cens, risk: tcgaRisk3, color: kmColors[2] }
  ]
});

panelLetter("E", 407, 378);
drawKM({
  title: "GSE39582", pText: "p = 0.0027", ticks: gseTicks, xr: [468.3, 772], dom: [-0.78, 16.74], yTitleX: 415,
  leg: [726, 727, 744, 751], medLabels: gseMedLabels, medLabelT: gseMedLabelT,
  curves: [
    { t: gse1T, s: gse1S, lo: gse1Lo, up: gse1Up, end: gseEnd[0], cens: gse1Cens, risk: gseRisk1, color: kmColors[0] },
    { t: gse2T, s: gse2S, lo: gse2Lo, up: gse2Up, end: gseEnd[1], cens: gse2Cens, risk: gseRisk2, color: kmColors[1] },
    { t: gse3T, s: gse3S, lo: gse3Lo, up: gse3Up, end: gseEnd[2], cens: gse3Cens, risk: gseRisk3, color: kmColors[2] }
  ]
});
</script>
</body>
</html>
